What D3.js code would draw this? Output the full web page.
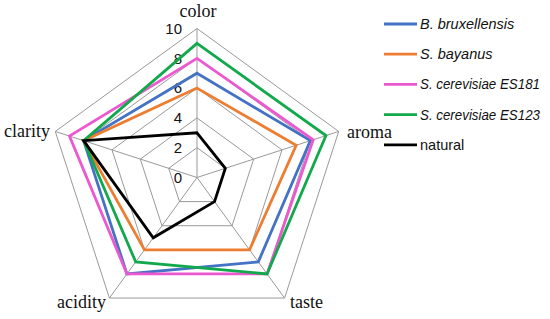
<!DOCTYPE html>
<html>
<head>
<meta charset="utf-8">
<script src="https://cdn.jsdelivr.net/npm/d3@7"></script>
<style>
  body { margin: 0; background: #fff; }
</style>
</head>
<body>
<div id="chart"></div>
<script>
// axes in clockwise order from the top
const axes = ['color', 'aroma', 'taste', 'acidity', 'clarity']
const ticks = [0, 2, 4, 6, 8, 10]

const seriesNames = ['B. bruxellensis', 'S. bayanus', 'S. cerevisiae ES181', 'S. cerevisiae ES123', 'natural']
const bruxellensis = [7, 8, 7, 8, 8]
const bayanus = [6, 7, 6, 6, 8]
const es181 = [8, 8.2, 8, 8, 9]
const es123 = [9, 9.1, 8, 7, 8]
const natural = [3, 2, 2, 5, 8]
const seriesColors = ['#4472c4', '#ed7d31', '#ec58d0', '#12a94c', '#000000']

const W = 550
const H = 319
const cx = 197
const cy = 177.5
const radius = 149

const svg = d3.select('#chart').append('svg')
  .attr('width', W)
  .attr('height', H)

const r = d3.scaleLinear().domain([0, 10]).range([0, radius])
const angle = d3.scalePoint().domain(axes).range([0, 2 * Math.PI * (axes.length - 1) / axes.length])

function point (axis, v) {
  const a = angle(axis)
  return [cx + r(v) * Math.sin(a), cy - r(v) * Math.cos(a)]
}

// grid rings
const grid = svg.append('g')
ticks.filter(t => t > 0).forEach(function (t) {
  grid.append('polygon')
    .attr('points', axes.map(a => point(a, t).join(',')).join(' '))
    .style('fill', 'none')
    .style('stroke', '#999')
    .style('stroke-width', 1)
})

// spokes
axes.forEach(function (a) {
  const p = point(a, 10)
  grid.append('line')
    .attr('x1', cx).attr('y1', cy)
    .attr('x2', p[0]).attr('y2', p[1])
    .style('stroke', '#999')
    .style('stroke-width', 1)
})

// tick labels along the top axis
svg.append('g').selectAll('text')
  .data(ticks)
  .join('text')
  .attr('x', cx - 15)
  .attr('y', t => cy - r(t))
  .attr('dy', '0.35em')
  .attr('text-anchor', 'end')
  .style('font-family', 'Liberation Sans, Arial, sans-serif')
  .style('font-size', '15px')
  .style('fill', '#111')
  .text(t => t)

// series lines
const allSeries = [bruxellensis, bayanus, es181, es123, natural]
const line = d3.line().curve(d3.curveLinearClosed)
allSeries.forEach(function (vals, i) {
  svg.append('path')
    .attr('d', line(axes.map((a, j) => point(a, vals[j]))))
    .style('fill', 'none')
    .style('stroke', seriesColors[i])
    .style('stroke-width', 2.8)
    .style('stroke-linejoin', 'miter')
})

// axis labels
const labelPos = {
  color: { x: cx + 1, y: 17, anchor: 'middle' },
  aroma: { x: 347, y: 138, anchor: 'start' },
  taste: { x: 290, y: 308, anchor: 'start' },
  acidity: { x: 106, y: 308, anchor: 'end' },
  clarity: { x: 50, y: 137, anchor: 'end' }
}
svg.append('g').selectAll('text')
  .data(axes)
  .join('text')
  .attr('x', d => labelPos[d].x)
  .attr('y', d => labelPos[d].y)
  .attr('text-anchor', d => labelPos[d].anchor)
  .style('font-family', 'Liberation Serif, Times New Roman, serif')
  .style('font-size', '18px')
  .style('fill', '#111')
  .text(d => d)

// legend
const legend = svg.append('g').attr('transform', 'translate(384,24)')
seriesNames.forEach(function (name, i) {
  const g = legend.append('g').attr('transform', 'translate(0,' + (i * 30.2) + ')')
  g.append('line')
    .attr('x1', 0).attr('x2', 33)
    .style('stroke', seriesColors[i])
    .style('stroke-width', 2.8)
  const t = g.append('text')
    .attr('x', 36)
    .attr('dy', '0.35em')
    .style('font-family', 'Liberation Sans, Arial, sans-serif')
    .style('font-size', '14.5px')
    .style('font-style', i < 4 ? 'italic' : 'normal')
    .style('fill', '#111')
    .text(name)
  // keep long names inside the right edge
  if (t.node().getComputedTextLength() > 120) {
    t.attr('textLength', 120).attr('lengthAdjust', 'spacingAndGlyphs')
  }
})
</script>
</body>
</html>
